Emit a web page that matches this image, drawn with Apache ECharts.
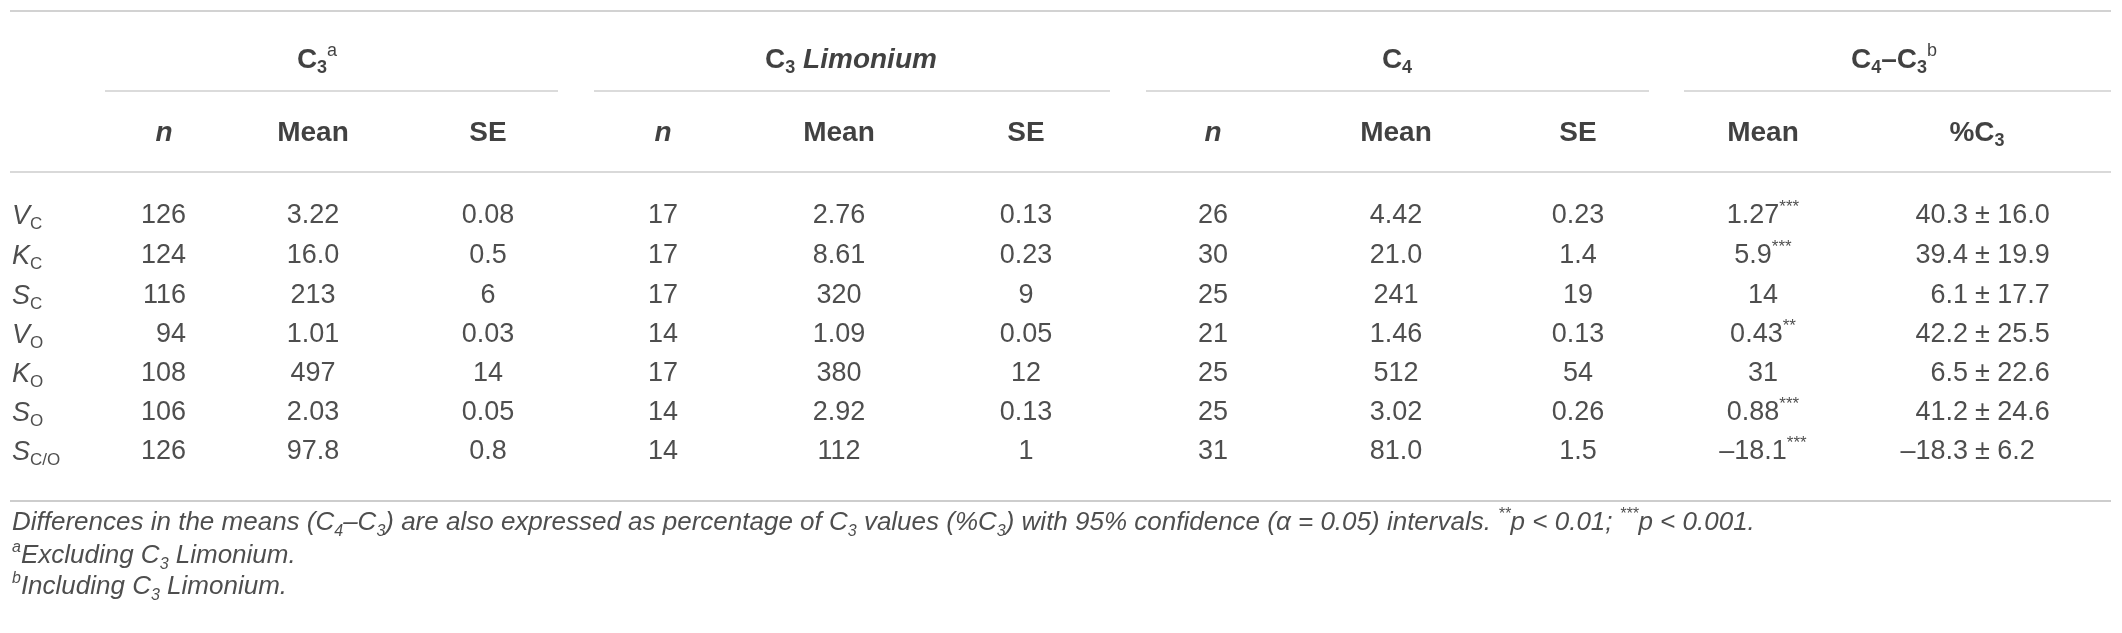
<!DOCTYPE html>
<html lang="en" style="height: 100%">
<head>
    <meta charset="utf-8">
</head>
<body style="height: 100%; margin: 0; background: #ffffff">
<div id="container" style="width: 2122px; height: 633px"></div>
<script type="text/javascript" src="https://cdn.jsdelivr.net/npm/echarts@6/dist/echarts.min.js"></script>
<script type="text/javascript">

    // markup: ~..~ italic, _{..} subscript, ^{..} superscript
    const groups = ['C_{3}^{a}', 'C_{3} ~Limonium~', 'C_{4}', 'C_{4}–C_{3}^{b}'];
    const columns = ['~n~', 'Mean', 'SE', '~n~', 'Mean', 'SE', '~n~', 'Mean', 'SE', 'Mean', '%C_{3}'];
    const rowNames = ['~V~_{C}', '~K~_{C}', '~S~_{C}', '~V~_{O}', '~K~_{O}', '~S~_{O}', '~S~_{C/O}'];

    const c3N = ['126', '124', '116', '94', '108', '106', '126'];
    const c3Mean = ['3.22', '16.0', '213', '1.01', '497', '2.03', '97.8'];
    const c3SE = ['0.08', '0.5', '6', '0.03', '14', '0.05', '0.8'];

    const limN = ['17', '17', '17', '14', '17', '14', '14'];
    const limMean = ['2.76', '8.61', '320', '1.09', '380', '2.92', '112'];
    const limSE = ['0.13', '0.23', '9', '0.05', '12', '0.13', '1'];

    const c4N = ['26', '30', '25', '21', '25', '25', '31'];
    const c4Mean = ['4.42', '21.0', '241', '1.46', '512', '3.02', '81.0'];
    const c4SE = ['0.23', '1.4', '19', '0.13', '54', '0.26', '1.5'];

    const diffMean = ['1.27', '5.9', '14', '0.43', '31', '0.88', '–18.1'];
    const diffSig = ['***', '***', '', '**', '', '***', '***'];
    const diffPct = ['40.3', '39.4', '6.1', '42.2', '6.5', '41.2', '–18.3'];
    const diffCI = ['16.0', '19.9', '17.7', '25.5', '22.6', '24.6', '6.2'];

    const notes = [
        'Differences in the means (C_{4}–C_{3}) are also expressed as percentage of C_{3} values (%C_{3}) with 95% confidence (α = 0.05) intervals. ^{**}p < 0.01; ^{***}p < 0.001.',
        '^{a}Excluding C_{3} Limonium.',
        '^{b}Including C_{3} Limonium.'
    ];

    // layout (pixels, the axes run 0..2122 and 0..633)
    const W = 2122, H = 633;
    const colX = [186, 313, 488, 663, 839, 1026, 1213, 1396, 1578, 1763, 1975];
    const headX = [164, 313, 488, 663, 839, 1026, 1213, 1396, 1578, 1763, 1977];
    const groupX = [317, 851, 1397, 1894];
    const groupLines = [[105, 558], [594, 1110], [1146, 1649], [1684, 2111]];
    const rowY = [216, 256, 296, 335, 374, 413, 452];
    const groupY = 60, headY = 133, groupLineY = 91;
    const ruleTop = 11, ruleHead = 172, ruleBottom = 501;
    const noteY = [523, 556, 587];
    const leftX = 12, rightX = 2111;

    const FONT = '"Liberation Sans", Arial, Helvetica, sans-serif';

    function toRich(str, kind) {
        let out = '', buf = '', italic = false, i = 0;
        const flush = () => {
            if (buf) {
                out += '{' + kind + (italic ? 'I' : 'R') + '|' + buf + '}';
                buf = '';
            }
        };
        while (i < str.length) {
            const ch = str[i];
            if (ch === '~') {
                flush();
                italic = !italic;
                i++;
            } else if ((ch === '_' || ch === '^') && str[i + 1] === '{') {
                flush();
                const end = str.indexOf('}', i);
                out += '{' + kind + (ch === '_' ? 'Sub' : 'Sup') + '|' + str.slice(i + 2, end) + '}';
                i = end + 1;
            } else {
                buf += ch;
                i++;
            }
        }
        flush();
        return out;
    }

    function richSet(kind, size, o) {
        const lh = Math.round(size * 1.25);
        const small = Math.round(size * 0.63);
        const off = Math.round(size * 0.26);
        const base = {fontFamily: FONT, color: o.color, lineHeight: lh};
        const set = {};
        set[kind + 'R'] = Object.assign({}, base, {fontSize: size, fontWeight: o.weight, fontStyle: o.italic ? 'italic' : 'normal'});
        set[kind + 'I'] = Object.assign({}, base, {fontSize: size, fontWeight: o.weight, fontStyle: 'italic'});
        set[kind + 'Sub'] = Object.assign({}, base, {
            fontSize: small, fontWeight: o.subWeight, fontStyle: o.italic ? 'italic' : 'normal',
            lineHeight: lh - 2 * off, verticalAlign: 'bottom'
        });
        set[kind + 'Sup'] = Object.assign({}, base, {
            fontSize: small, fontWeight: o.supWeight, fontStyle: o.italic ? 'italic' : 'normal',
            lineHeight: lh - 2 * off, verticalAlign: 'top'
        });
        return set;
    }

    function cell(x, y, text, kind, align) {
        return {value: [x, y], txt: toRich(text, kind), label: {align: align || 'center'}};
    }

    // build the cells
    const headCells = [];
    groups.forEach((g, i) => headCells.push(cell(groupX[i], groupY, g, 'h', 'center')));
    columns.forEach((c, i) => headCells.push(cell(headX[i], headY, c, 'h', 'center')));

    const rowCells = rowNames.map((r, i) => cell(leftX, rowY[i], r, 'r', 'left'));

    const bodyCells = [];
    const bodyCols = [c3N, c3Mean, c3SE, limN, limMean, limSE, c4N, c4Mean, c4SE];
    bodyCols.forEach((col, c) => {
        col.forEach((v, r) => bodyCells.push(cell(colX[c], rowY[r], v, 'b', c === 0 ? 'right' : 'center')));
    });
    diffMean.forEach((v, r) => {
        const s = diffSig[r] ? v + '^{' + diffSig[r] + '}' : v;
        bodyCells.push(cell(colX[9], rowY[r], s, 'b', 'center'));
    });
    diffPct.forEach((v, r) => {
        bodyCells.push(cell(colX[10] - 7, rowY[r], v, 'b', 'right'));
        bodyCells.push(cell(colX[10], rowY[r], '± ' + diffCI[r], 'b', 'left'));
    });

    const noteCells = notes.map((n, i) => cell(leftX, noteY[i], n, 'f', 'left'));

    const rules = [
        {coords: [[leftX - 2, ruleTop], [rightX, ruleTop]], lineStyle: {width: 2, color: '#a6a6a6'}},
        {coords: [[leftX - 2, ruleHead], [rightX, ruleHead]], lineStyle: {width: 1.5, color: '#9c9c9c'}},
        {coords: [[leftX - 2, ruleBottom], [rightX, ruleBottom]], lineStyle: {width: 2, color: '#9c9c9c'}}
    ];
    groupLines.forEach(g => rules.push({
        coords: [[g[0], groupLineY], [g[1], groupLineY]], lineStyle: {width: 1.5, color: '#a0a0a0'}
    }));

    function textSeries(name, data, rich) {
        return {
            name: name,
            type: 'scatter',
            symbolSize: 0,
            silent: true,
            data: data,
            label: {
                show: true,
                position: 'inside',
                verticalAlign: 'middle',
                formatter: p => p.data.txt,
                rich: rich
            }
        };
    }

    var dom = document.getElementById('container');
    var myChart = echarts.init(dom, null, {renderer: 'canvas'});

    const option = {
        backgroundColor: '#ffffff',
        animation: false,
        grid: {left: 0, right: 0, top: 0, bottom: 0},
        xAxis: {type: 'value', min: 0, max: W, show: false},
        yAxis: {type: 'value', min: 0, max: H, inverse: true, show: false},
        series: [
            {
                type: 'lines',
                coordinateSystem: 'cartesian2d',
                silent: true,
                data: rules
            },
            textSeries('head', headCells, richSet('h', 28, {color: '#111', weight: 'bold', subWeight: 'bold', supWeight: 'normal'})),
            textSeries('rows', rowCells, richSet('r', 27, {color: '#222', weight: 'normal', subWeight: 'normal', supWeight: 'normal'})),
            textSeries('body', bodyCells, richSet('b', 27, {color: '#222', weight: 'normal', subWeight: 'normal', supWeight: 'normal'})),
            textSeries('notes', noteCells, richSet('f', 26, {color: '#222', weight: 'normal', subWeight: 'normal', supWeight: 'normal', italic: true}))
        ]
    };

    myChart.setOption(option);
    window.addEventListener('resize', myChart.resize);

</script>
</body>
</html>
